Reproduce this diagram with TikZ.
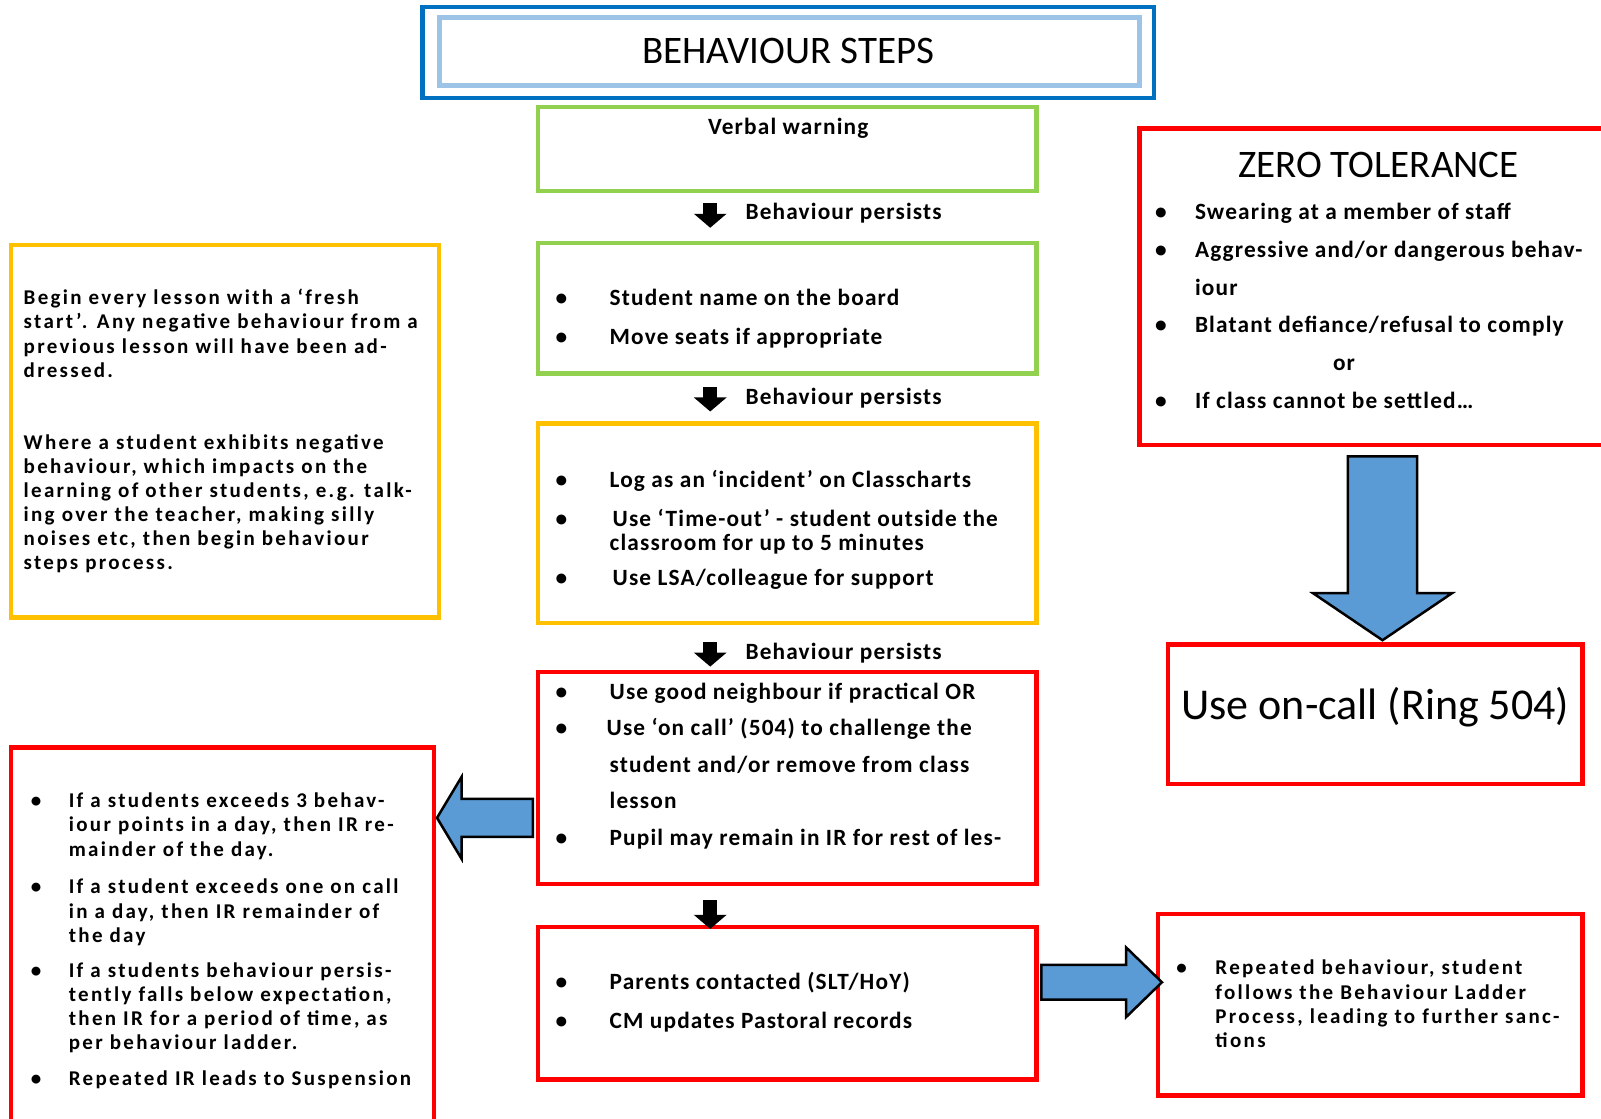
\documentclass[tikz,border=0pt]{standalone}
\usepackage{fontspec}
\setmainfont{Carlito}
\newfontfamily\bodyA{Carlito}[LetterSpace=5]
\newfontfamily\bodyB{Carlito}[LetterSpace=11]
\usetikzlibrary{calc,arrows.meta,fit}
\definecolor{bred}{HTML}{FF0000}
\definecolor{bgreen}{HTML}{92D050}
\definecolor{borange}{HTML}{FFC000}
\definecolor{bdblue}{HTML}{0070C0}
\definecolor{blblue}{HTML}{9DC3E6}
\definecolor{barrow}{HTML}{5B9BD5}
\newcommand\bul[1]{\makebox[#1][l]{•}}
\begin{document}
\begin{tikzpicture}[x=1.021pt,y=-1.021pt,
  box/.style={draw=#1, line width=4.5pt, inner sep=0pt},
  txt/.style={anchor=base west, inner sep=0pt, align=left},
  centre/.style={inner sep=0pt},
  blk/.style={draw=black, line width=14pt, -{Triangle[width=32pt,length=14pt]}},
  bluearrow/.style={fill=barrow, draw=black, line width=2.5pt, line join=miter},
  fA/.style={font=\bodyA\bfseries\fontsize{23.3}{#1}\selectfont},
  fB/.style={font=\bodyB\bfseries\fontsize{21}{#1}\selectfont}
]
\useasboundingbox (0,0) rectangle (1568,1095);
\clip (0,0) rectangle (1568,1095);

% title
\node[fit={(414,7) (1130,96)}, box=bdblue] (title) {};
\node[fit={(430,17) (1116,84)}, box=blblue, line width=5pt] (titlein) {};
\node[centre, font=\fontsize{39}{39}\selectfont] (titletext) at (772,50) {BEHAVIOUR STEPS};

% central steps
\node[fit={(527,105) (1015,187)}, box=bgreen] (s1) {};
\node[fit={(527,238) (1015,366)}, box=bgreen] (s2) {};
\node[fit={(527,415) (1015,610)}, box=borange] (s3) {};
\node[fit={(527,658) (1015,866)}, box=bred] (s4) {};
\node[fit={(527,908) (1015,1057)}, box=bred] (s5) {};

\node[centre, fA=26, anchor=base] (t1) at (772,132) {Verbal warning};

% multi-line texts: base anchor = baseline of last line
\node[txt, fA=38.8] (t2) at (544,337) {\bul{54pt}Student name on the board\\
\bul{54pt}Move seats if appropriate};

\node[txt, fA=24.5] (t3) at (544,573) {\bul{54pt}Log as an ‘incident’ on Classcharts\\[14pt]
\bul{57pt}Use ‘Time-out’ - student outside the\\
\hspace*{54pt}classroom for up to 5 minutes\\[10pt]
\bul{57pt}Use LSA/colleague for support};

\node[txt, fA=36.5] (t4) at (544,828) {\bul{54pt}Use good neighbour if practical OR\\
\bul{51pt}Use ‘on call’ (504) to challenge the\\
\hspace*{54pt}student and/or remove from class\\
\hspace*{54pt}lesson\\
\bul{54pt}Pupil may remain in IR for rest of les-};

\node[txt, fA=38.8] (t5) at (544,1007) {\bul{54pt}Parents contacted (SLT/HoY)\\
\bul{54pt}CM updates Pastoral records};

% behaviour persists
\node[txt, fA=26] (p1) at (730,215) {Behaviour persists};
\node[txt, fA=26] (p2) at (730,396) {Behaviour persists};
\node[txt, fA=26] (p3) at (730,646) {Behaviour persists};

\draw[blk] ([xshift=-77pt,yshift=-10pt]s1.south) -- ([xshift=-77pt,yshift=13pt]s2.north);
\draw[blk] ([xshift=-77pt,yshift=-11pt]s2.south) -- ([xshift=-77pt,yshift=10pt]s3.north);
\draw[blk] ([xshift=-77pt,yshift=-17pt]s3.south) -- ([xshift=-77pt,yshift=3pt]s4.north);
\draw[blk] ([xshift=-77pt,yshift=-14pt]s4.south) -- ([xshift=-77pt,yshift=-4pt]s5.north);

% left boxes
\node[fit={(11,240) (430,605)}, box=borange] (pre) {};
\node[txt, fB=24.1] (t6) at (23,558) {Begin every lesson with a ‘fresh\\
start’.  Any negative behaviour from a\\
previous lesson will have been ad-\\
dressed.\\[48pt]
Where a student exhibits negative\\
behaviour, which impacts on the\\
learning of other students, e.g. talk-\\
ing over the teacher, making silly\\
noises etc, then begin behaviour\\
steps process.};

\node[fit={(11,732) (425,1140)}, box=bred] (ir) {};
\node[txt, fB=24.2] (t7) at (30,1063) {\bul{38pt}If a students exceeds 3 behav-\\
\hspace*{38pt}iour points in a day, then IR re-\\
\hspace*{38pt}mainder of the day.\\[13.6pt]
\bul{38pt}If a student exceeds one on call\\
\hspace*{38pt}in a day, then IR remainder of\\
\hspace*{38pt}the day\\[10.5pt]
\bul{38pt}If a students behaviour persis-\\
\hspace*{38pt}tently falls below expectation,\\
\hspace*{38pt}then IR for a period of time, as\\
\hspace*{38pt}per behaviour ladder.\\[11.5pt]
\bul{38pt}Repeated IR leads to Suspension};

% right side
\node[fit={(1116,126) (1620,436)}, box=bred] (zt) {};
\node[centre, anchor=base, font=\fontsize{39}{39}\selectfont] (t8) at (1350,174) {ZERO TOLERANCE};
\node[txt, fA=37.8] (t9) at (1131,400) {\bul{40pt}Swearing at a member of staff\\
\bul{40pt}Aggressive and/or dangerous  behav-\\
\hspace*{40pt}iour\\
\bul{40pt}Blatant defiance/refusal to comply\\
\hspace*{178pt}or\\
\bul{40pt}If class cannot be settled…};

\node[fit={(1144,631) (1550,768)}, box=bred] (oc) {};
\node[centre, font=\fontsize{44}{44}\selectfont] (t10) at (1347,693) {Use on-call (Ring 504)};

\node[fit={(1134,895) (1550,1073)}, box=bred] (lad) {};
\node[txt, fB=24.2] (t11) at (1152,1026) {\bul{39pt}Repeated behaviour, student\\
\hspace*{39pt}follows the Behaviour Ladder\\
\hspace*{39pt}Process, leading to further sanc-\\
\hspace*{39pt}tions};

% blue block arrows
\coordinate (la) at (522,801);
\coordinate (lb) at (428,801);
\filldraw[bluearrow] (la) ++(0,-18.5) -- ++(-70,0) -- ++(0,-21.5) -- (lb) -- ++(24,40) -- ++(0,-21.5) -- ++(70,0) -- cycle;

\coordinate (ra) at (1020,962);
\coordinate (rb) at (1138,962);
\filldraw[bluearrow] (ra) ++(0,-17) -- ++(83,0) -- ++(0,-17) -- (rb) -- ++(-35,34) -- ++(0,-17) -- ++(-83,0) -- cycle;

\coordinate (da) at (1354,447);
\coordinate (db) at (1354,627);
\filldraw[bluearrow] (da) ++(-34,0) -- ++(0,134) -- ++(-34,0) -- (db) -- ++(68,-46) -- ++(-34,0) -- ++(0,-134) -- cycle;
\end{tikzpicture}
\end{document}
